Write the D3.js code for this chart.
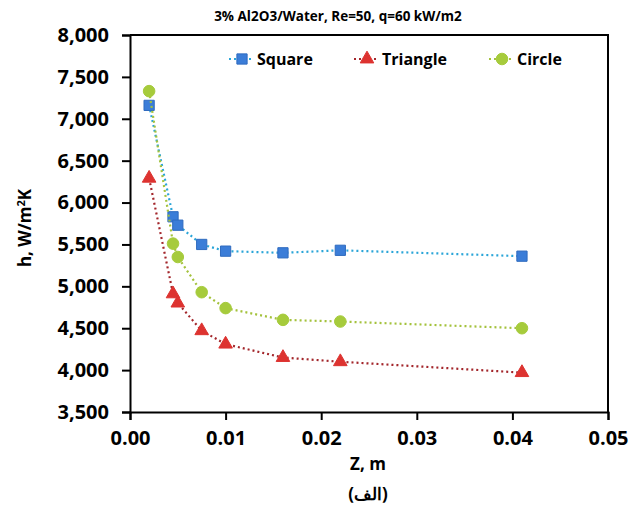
<!DOCTYPE html>
<html>
<head>
<meta charset="utf-8">
<script src="https://cdn.jsdelivr.net/npm/d3@7"></script>
<style>
  body { margin: 0; background: #fff; }
  svg text { font-family: "Open Sans", "Noto Sans", sans-serif; font-weight: bold; fill: #000; }
</style>
</head>
<body>
<svg id="chart" width="630" height="515"></svg>
<script>
// axial positions, m
const zValues = [0.002, 0.0045, 0.005, 0.0075, 0.01, 0.016, 0.022, 0.041];
// heat transfer coefficient for each channel shape
const squareH = [7160, 5830, 5730, 5500, 5420, 5400, 5430, 5360];
const triangleH = [6290, 4910, 4800, 4470, 4310, 4150, 4100, 3970];
const circleH = [7330, 5510, 5350, 4930, 4740, 4600, 4580, 4500];
const seriesNames = ['Square', 'Triangle', 'Circle'];
const xTicks = [0, 0.01, 0.02, 0.03, 0.04, 0.05];
const yTicks = [3500, 4000, 4500, 5000, 5500, 6000, 6500, 7000, 7500, 8000];

const series = [
    { name: seriesNames[0], values: squareH, symbol: d3.symbolSquare, fill: '#3b7dd8', stroke: '#2f6bbf', line: '#2aa5d8' },
    { name: seriesNames[1], values: triangleH, symbol: d3.symbolTriangle, fill: '#dd3330', stroke: '#dd3330', line: '#a3262b' },
    { name: seriesNames[2], values: circleH, symbol: d3.symbolCircle, fill: '#a6cb3c', stroke: '#a6cb3c', line: '#a4c23c' }
];

const svg = d3.select('#chart');
const margin = { left: 130, right: 22, top: 35, bottom: 103 };
const width = 630 - margin.left - margin.right;
const height = 515 - margin.top - margin.bottom;

const x = d3.scaleLinear().domain([0, 0.05]).range([0, width]);
const y = d3.scaleLinear().domain([3500, 8000]).range([height, 0]);

const g = svg.append('g').attr('transform', `translate(${margin.left},${margin.top})`);

// frame top and right
g.append('path')
    .attr('d', `M0,0H${width}V${height}`)
    .attr('fill', 'none')
    .attr('stroke', '#000')
    .attr('stroke-width', 2);

const xAxis = g.append('g')
    .attr('transform', `translate(0,${height})`)
    .call(d3.axisBottom(x).tickValues(xTicks).tickFormat(d3.format('.2f')).tickSize(8).tickPadding(11));
const yAxis = g.append('g')
    .call(d3.axisLeft(y).tickValues(yTicks).tickFormat(d3.format(',')).tickSize(8).tickPadding(13));

[xAxis, yAxis].forEach(a => {
    a.select('.domain').attr('stroke', '#000').attr('stroke-width', 2);
    a.selectAll('.tick line').attr('stroke', '#000').attr('stroke-width', 2);
    a.selectAll('.tick text').style('font-size', '20px');
});

// lines and markers
const line = d3.line().x((d, i) => x(zValues[i])).y(d => y(d));
series.forEach(s => {
    g.append('path')
        .datum(s.values)
        .attr('d', line)
        .attr('fill', 'none')
        .attr('stroke', s.line)
        .attr('stroke-width', 2.2)
        .attr('stroke-dasharray', '2,3');
    g.selectAll(null)
        .data(s.values)
        .enter().append('path')
        .attr('transform', (d, i) => `translate(${x(zValues[i])},${y(d)})`)
        .attr('d', d3.symbol().type(s.symbol).size(s.symbol === d3.symbolTriangle ? 80 : 105))
        .attr('fill', s.fill)
        .attr('stroke', s.stroke)
        .attr('stroke-width', 1);
});

// legend
const legendX = [242, 367, 502];
series.forEach((s, i) => {
    const lg = svg.append('g').attr('transform', `translate(${legendX[i]},59)`);
    lg.append('line')
        .attr('x1', -13).attr('x2', 11)
        .attr('stroke', s.line).attr('stroke-width', 2.2)
        .attr('stroke-dasharray', '2,3');
    lg.append('path')
        .attr('d', d3.symbol().type(s.symbol).size(s.symbol === d3.symbolTriangle ? 80 : 105))
        .attr('fill', s.fill)
        .attr('stroke', s.stroke);
    lg.append('text')
        .attr('x', 15).attr('dy', '0.35em')
        .style('font-size', '16px')
        .text(s.name);
});

// titles
svg.append('text')
    .attr('x', 338).attr('y', 21)
    .attr('text-anchor', 'middle')
    .style('font-size', '13.5px')
    .text('3% Al2O3/Water, Re=50, q=60 kW/m2');

svg.append('text')
    .attr('x', 368).attr('y', 470)
    .attr('text-anchor', 'middle')
    .style('font-size', '17px')
    .text('Z, m');

svg.append('text')
    .attr('transform', 'translate(31,228) rotate(-90)')
    .attr('text-anchor', 'middle')
    .style('font-size', '17px')
    .html('h, W/m<tspan dy="-6" font-size="11px">2</tspan><tspan dy="6">K</tspan>');

svg.append('text')
    .attr('x', 368).attr('y', 500)
    .attr('text-anchor', 'middle')
    .attr('direction', 'rtl')
    .style('font-size', '17px')
    .text('(الف)');
</script>
</body>
</html>
